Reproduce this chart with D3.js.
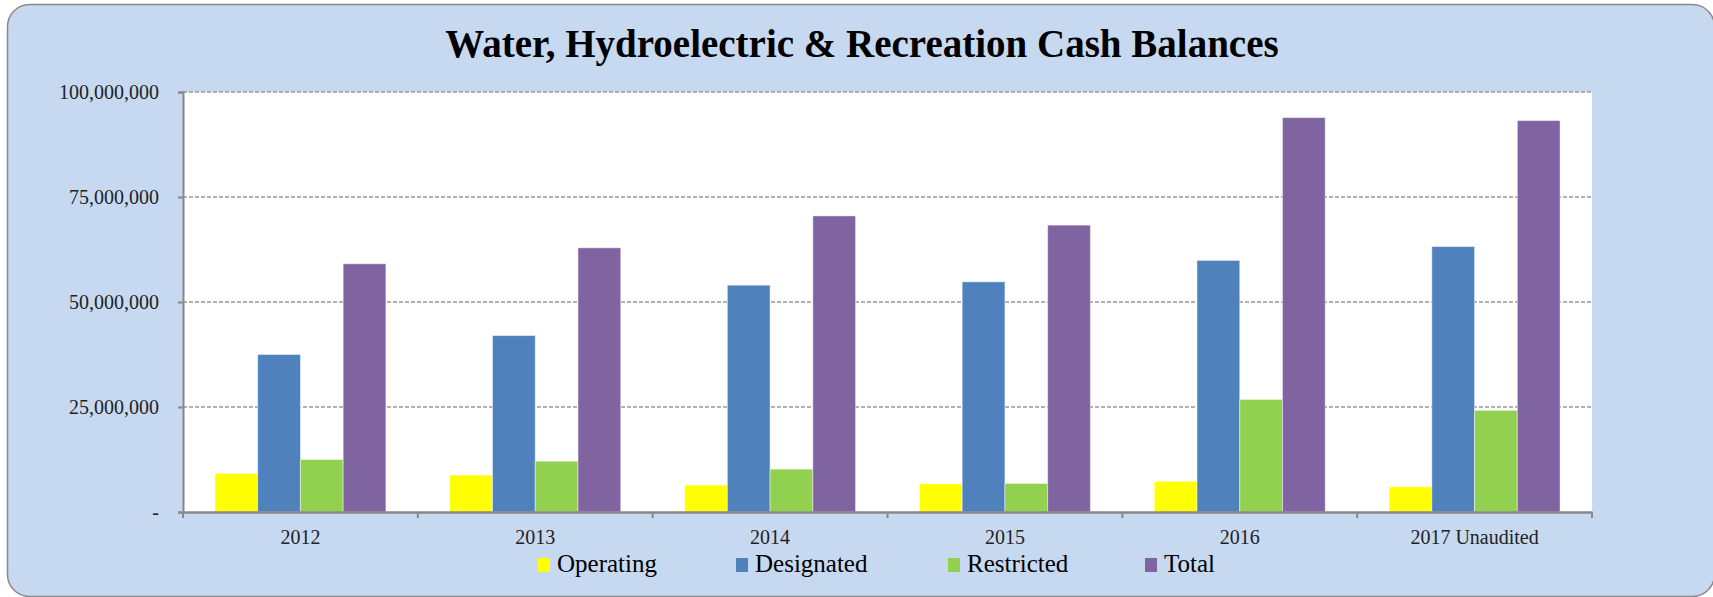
<!DOCTYPE html>
<html>
<head>
<meta charset="utf-8">
<script src="https://cdn.jsdelivr.net/npm/d3@7"></script>
<style>
  html, body { margin: 0; padding: 0; background: #fff; }
  svg { display: block; font-family: 'Liberation Serif', 'Times New Roman', serif; }
</style>
</head>
<body>
<div id="chart"></div>
<script>
const categories = ['2012', '2013', '2014', '2015', '2016', '2017 Unaudited'];
const seriesNames = ['Operating', 'Designated', 'Restricted', 'Total'];
const operating = [9200000, 8800000, 6400000, 6700000, 7300000, 6000000];
const designated = [37500000, 42000000, 54000000, 54800000, 59900000, 63200000];
const restricted = [12500000, 12100000, 10200000, 6800000, 26800000, 24200000];
const total = [59100000, 62900000, 70500000, 68300000, 93900000, 93200000];
const yTicks = [0, 25000000, 50000000, 75000000, 100000000];

const seriesValues = [operating, designated, restricted, total];
const colors = ['#FFFF00', '#4F81BD', '#92D050', '#8064A2'];

const W = 1713, H = 597;
const margin = { top: 92, right: 121, bottom: 85, left: 183 };
const width = W - margin.left - margin.right;
const height = H - margin.top - margin.bottom;

const root = d3.select('#chart').append('svg')
  .attr('width', W)
  .attr('height', H);

// rounded frame
root.append('rect')
  .attr('x', 7.5).attr('y', 4.5)
  .attr('width', W - 6).attr('height', H - 5)
  .attr('rx', 22).attr('ry', 22)
  .style('fill', '#C6D9F1')
  .style('stroke', '#8a8a8a')
  .style('stroke-width', 1.5);

root.append('text')
  .attr('x', 862)
  .attr('y', 57)
  .style('text-anchor', 'middle')
  .style('font-size', '39px')
  .style('font-weight', 'bold')
  .style('fill', '#000')
  .text('Water, Hydroelectric & Recreation Cash Balances');

const svg = root.append('g')
  .attr('transform', `translate(${margin.left},${margin.top})`);

svg.append('rect')
  .attr('width', width)
  .attr('height', height)
  .style('fill', '#fff');

const x0 = d3.scaleBand().domain(categories).range([0, width]).padding(0);
const bw = x0.bandwidth();
const x1 = d3.scaleBand().domain(seriesNames).range([bw * 0.136, bw * 0.864]).padding(0);
const y = d3.scaleLinear().domain([0, 100000000]).range([height, 0]);

// gridlines
svg.selectAll('.grid')
  .data(yTicks.filter((d) => d > 0))
  .enter()
  .append('line')
  .attr('class', 'grid')
  .attr('x1', 0)
  .attr('x2', width)
  .attr('y1', (d) => y(d))
  .attr('y2', (d) => y(d))
  .style('stroke', '#999')
  .style('stroke-width', 1.5)
  .style('stroke-dasharray', '4,2');

// bars
const groups = svg.selectAll('.group')
  .data(categories)
  .enter()
  .append('g')
  .attr('class', 'group')
  .attr('transform', (d) => `translate(${x0(d)},0)`);

groups.selectAll('rect')
  .data((c, i) => seriesNames.map((s, j) => ({ s, j, v: seriesValues[j][i] })))
  .enter()
  .append('rect')
  .attr('x', (d) => x1(d.s))
  .attr('y', (d) => y(d.v))
  .attr('width', x1.bandwidth())
  .attr('height', (d) => height - y(d.v))
  .style('fill', (d) => colors[d.j])
  .style('stroke', 'rgba(255,255,255,0.45)')
  .style('stroke-width', 1);

// y axis
const yAxis = svg.append('g')
  .call(d3.axisLeft(y)
    .tickValues(yTicks)
    .tickSize(5)
    .tickPadding(19)
    .tickFormat((d) => (d === 0 ? '-' : d3.format(',')(d))));
yAxis.select('.domain').style('stroke', '#888').style('stroke-width', 2);
yAxis.selectAll('.tick line').style('stroke', '#888').style('stroke-width', 2);
yAxis.selectAll('text')
  .style('font-size', '20px')
  .style('font-family', "'Liberation Serif', serif")
  .style('fill', '#222');

// x axis
const xAxis = svg.append('g')
  .attr('transform', `translate(0,${height})`)
  .call(d3.axisBottom(x0).tickSize(0).tickPadding(18));
xAxis.select('.domain').style('stroke', '#888').style('stroke-width', 2.5);
xAxis.selectAll('text')
  .style('font-size', '20px')
  .style('font-family', "'Liberation Serif', serif")
  .style('fill', '#222');

const boundaries = categories.map((c) => x0(c)).concat([width]);
svg.selectAll('.xtick')
  .data(boundaries)
  .enter()
  .append('line')
  .attr('class', 'xtick')
  .attr('x1', (d) => d)
  .attr('x2', (d) => d)
  .attr('y1', height)
  .attr('y2', height + 6)
  .style('stroke', '#888')
  .style('stroke-width', 2);

// legend
const legendX = [538, 736, 948, 1145];
const legend = root.selectAll('.legend')
  .data(seriesNames)
  .enter()
  .append('g')
  .attr('class', 'legend')
  .attr('transform', (d, i) => `translate(${legendX[i]},558)`);

legend.append('rect')
  .attr('width', 12)
  .attr('height', 14)
  .style('fill', (d, i) => colors[i]);

legend.append('text')
  .attr('x', 19)
  .attr('y', 14)
  .style('font-size', '25px')
  .style('fill', '#000')
  .text((d) => d);
</script>
</body>
</html>
